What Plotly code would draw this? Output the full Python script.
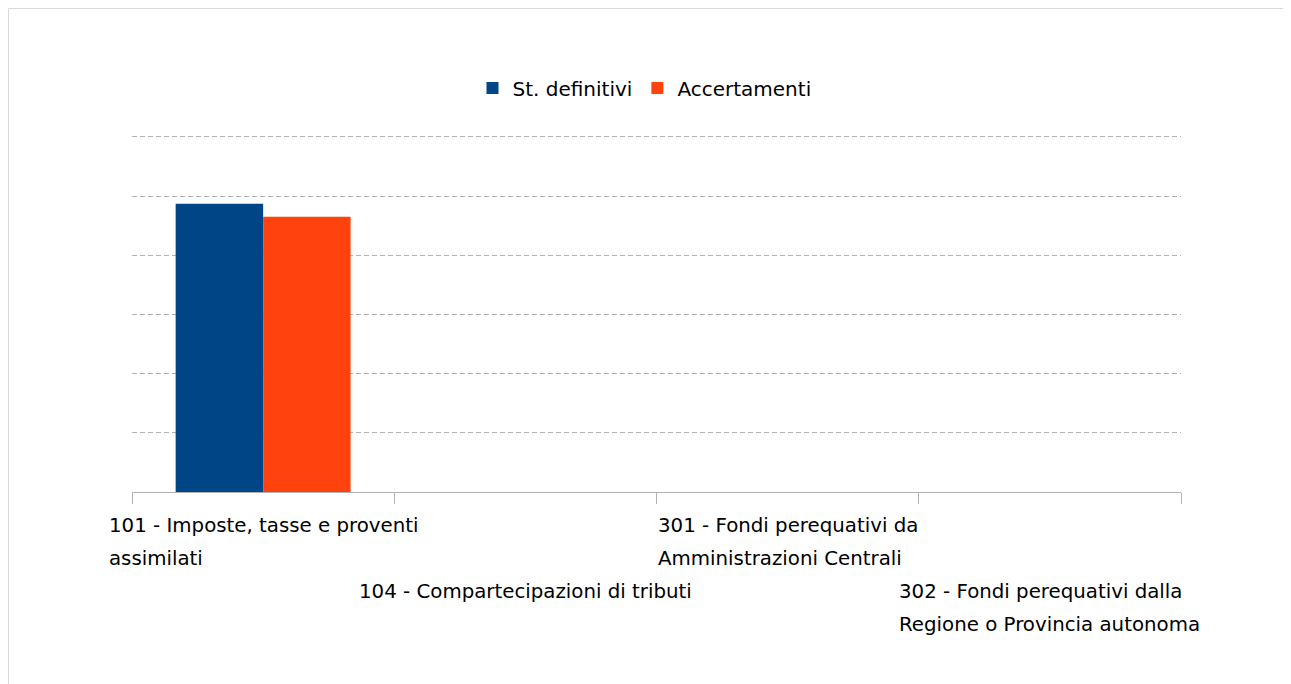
import plotly.graph_objects as go

categories = [
    "101 - Imposte, tasse e proventi assimilati",
    "104 - Compartecipazioni di tributi",
    "301 - Fondi perequativi da Amministrazioni Centrali",
    "302 - Fondi perequativi dalla Regione o Provincia autonoma",
]
label_lines = [
    ["101 - Imposte, tasse e proventi", "assimilati"],
    ["104 - Compartecipazioni di tributi"],
    ["301 - Fondi perequativi da", "Amministrazioni Centrali"],
    ["302 - Fondi perequativi dalla", "Regione o Provincia autonoma"],
]
st_definitivi = [4.87, 0, 0, 0]
accertamenti = [4.65, 0, 0, 0]
series_names = ["St. definitivi", "Accertamenti"]
colors = ["#004586", "#ff420e"]

W, H = 1291, 684
L, R, T, B = 124, 118, 126, 200
FONT = "DejaVu Sans"
FS = 20
LINE_GAP = 33  # px between label lines
BIG = LINE_GAP / 1.3

plot_w = W - L - R
plot_h = H - T - B

fig = go.Figure()
fig.add_trace(go.Bar(x=categories, y=st_definitivi, name=series_names[0], marker_color=colors[0], marker_line_width=0))
fig.add_trace(go.Bar(x=categories, y=accertamenti, name=series_names[1], marker_color=colors[1], marker_line_width=0))

# category labels, staggered in two rows, left-aligned inside a block centred on the category
annotations = []
for i, (cat, lines) in enumerate(zip(categories, label_lines)):
    row = i % 2
    text = "<br>".join("<span style='font-size:%.1fpx'>%s</span>" % (FS - 0.2, ln) for ln in lines)
    annotations.append(dict(
        x=cat, xref="x", y=0, yref="paper", yanchor="top", xanchor="center",
        align="left", text=text, showarrow=False, yshift=-(20 + row * 2 * LINE_GAP),
        font=dict(family=FONT, size=BIG, color="#000000"),
    ))

border = dict(
    type="rect", xref="paper", yref="paper",
    x0=(0.5 - L) / plot_w, x1=(1300 - L) / plot_w,
    y0=(H - B - 720) / plot_h, y1=(H - B - 0.5) / plot_h,
    line=dict(color="#d9d9d9", width=1), fillcolor="rgba(0,0,0,0)", layer="below",
)

fig.update_layout(
    width=W, height=H,
    margin=dict(l=L, r=R, t=T, b=B, autoexpand=False),
    paper_bgcolor="white", plot_bgcolor="white",
    barmode="group", bargap=0.333, bargroupgap=0,
    font=dict(family=FONT, size=FS, color="#000000"),
    legend=dict(orientation="h", x=0.5 - 12 / plot_w, xanchor="center", y=(H - B - 80) / plot_h, yanchor="middle",
                font=dict(family=FONT, size=FS, color="#000000"), itemwidth=30),
    annotations=annotations,
    shapes=[border],
    showlegend=True,
)
fig.update_xaxes(
    type="category", range=[-0.5, 3.5], showticklabels=False, showgrid=False,
    showline=True, linecolor="#b3b3b3", linewidth=1,
    ticks="outside", tickson="boundaries", ticklen=11, tickcolor="#b3b3b3", tickwidth=1,
    zeroline=False,
)
fig.update_yaxes(
    range=[0, 6.05], tick0=0, dtick=1, showticklabels=False, showgrid=True, gridcolor="#b3b3b3",
    griddash="5px,3px", gridwidth=1, zeroline=False, showline=False, ticks="",
)

fig.write_html("out.html")
